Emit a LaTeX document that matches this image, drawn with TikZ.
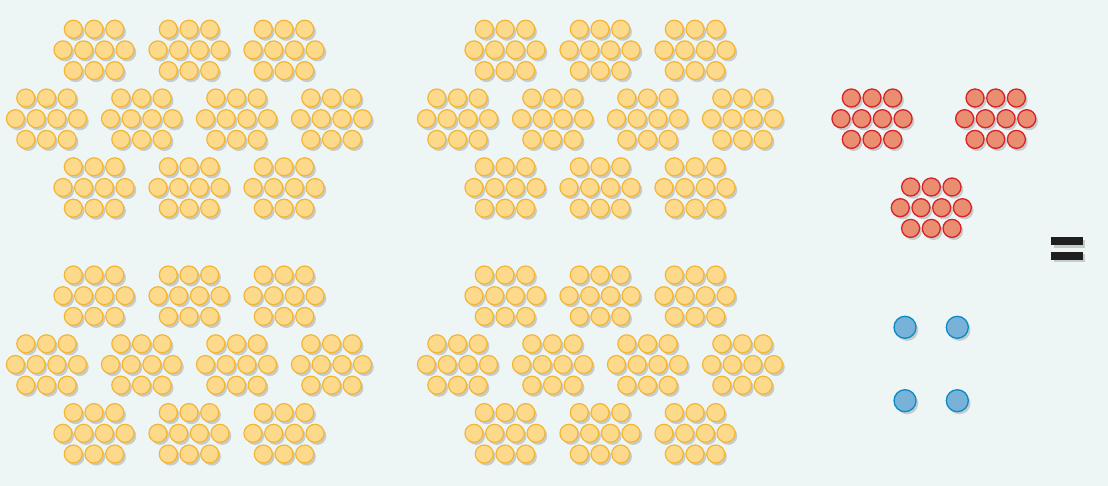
\documentclass[tikz,border=0pt]{standalone}

\definecolor{bgcol}{HTML}{EEF5F5}
\definecolor{shadecol}{HTML}{C6CBCB}
\definecolor{yelfill}{HTML}{FDD98B}
\definecolor{yeldraw}{HTML}{F4B532}
\definecolor{redfill}{HTML}{E98E71}
\definecolor{reddraw}{HTML}{D92128}
\definecolor{bluefill}{HTML}{78B2D8}
\definecolor{bluedraw}{HTML}{0A8BC6}

\newcommand*{\dotr}{9}
\newcommand*{\dstep}{20.7}
\newcommand*{\dhalf}{10.35}

% one cluster of ten dots: centre x, centre y, style
\newcommand*{\cluster}[3]{%
	\foreach \dx in {-\dstep,0,\dstep} {
		\path[#3] (#1+\dx,#2-\dstep) circle[radius=\dotr];
	}
	\foreach \dx in {-\dstep-\dhalf,-\dhalf,\dhalf,\dstep+\dhalf} {
		\path[#3] (#1+\dx,#2) circle[radius=\dotr];
	}
	\foreach \dx in {-\dstep,0,\dstep} {
		\path[#3] (#1+\dx,#2+\dstep) circle[radius=\dotr];
	}
}

% ten clusters of ten dots: centre x, centre y
\newcommand*{\hundred}[2]{%
	\foreach \cx in {-95,0,95} {
		\cluster{#1+\cx}{#2-68.8}{yeldot}
	}
	\foreach \cx in {-142.5,-47.5,47.5,142.5} {
		\cluster{#1+\cx}{#2}{yeldot}
	}
	\foreach \cx in {-95,0,95} {
		\cluster{#1+\cx}{#2+68.8}{yeldot}
	}
}

\begin{document}
\begin{tikzpicture}
[
	x=1pt, y=-1pt,
	shaded/.style={preaction={fill=shadecol,transform canvas={xshift=2.2pt,yshift=-2.6pt}}},
	yeldot/.style={shaded,fill=yelfill,draw=yeldraw,line width=1.2pt},
	reddot/.style={shaded,fill=redfill,draw=reddraw,line width=1.3pt},
	bluedot/.style={shaded,fill=bluefill,draw=bluedraw,line width=1.3pt},
	eqbar/.style={shaded,fill=black!88}
]

	% background
	\fill[bgcol] (0,0) rectangle (1108,486);
	\useasboundingbox (0,0) rectangle (1108,486);

	% hundreds
	\hundred{189}{118.7}
	\hundred{600}{118.7}
	\hundred{189}{364.5}
	\hundred{600}{364.5}

	% tens
	\cluster{872}{118.7}{reddot}
	\cluster{995.7}{118.7}{reddot}
	\cluster{931.3}{207.7}{reddot}

	% ones
	\foreach \ux in {905,957.3} {
		\foreach \uy in {327.3,400.7} {
			\path[bluedot] (\ux,\uy) circle[radius=11];
		}
	}

	% equals sign
	\path[eqbar] (1051.3,237) rectangle (1082.7,245);
	\path[eqbar] (1051.3,251.7) rectangle (1082.7,259.7);

\end{tikzpicture}
\end{document}
